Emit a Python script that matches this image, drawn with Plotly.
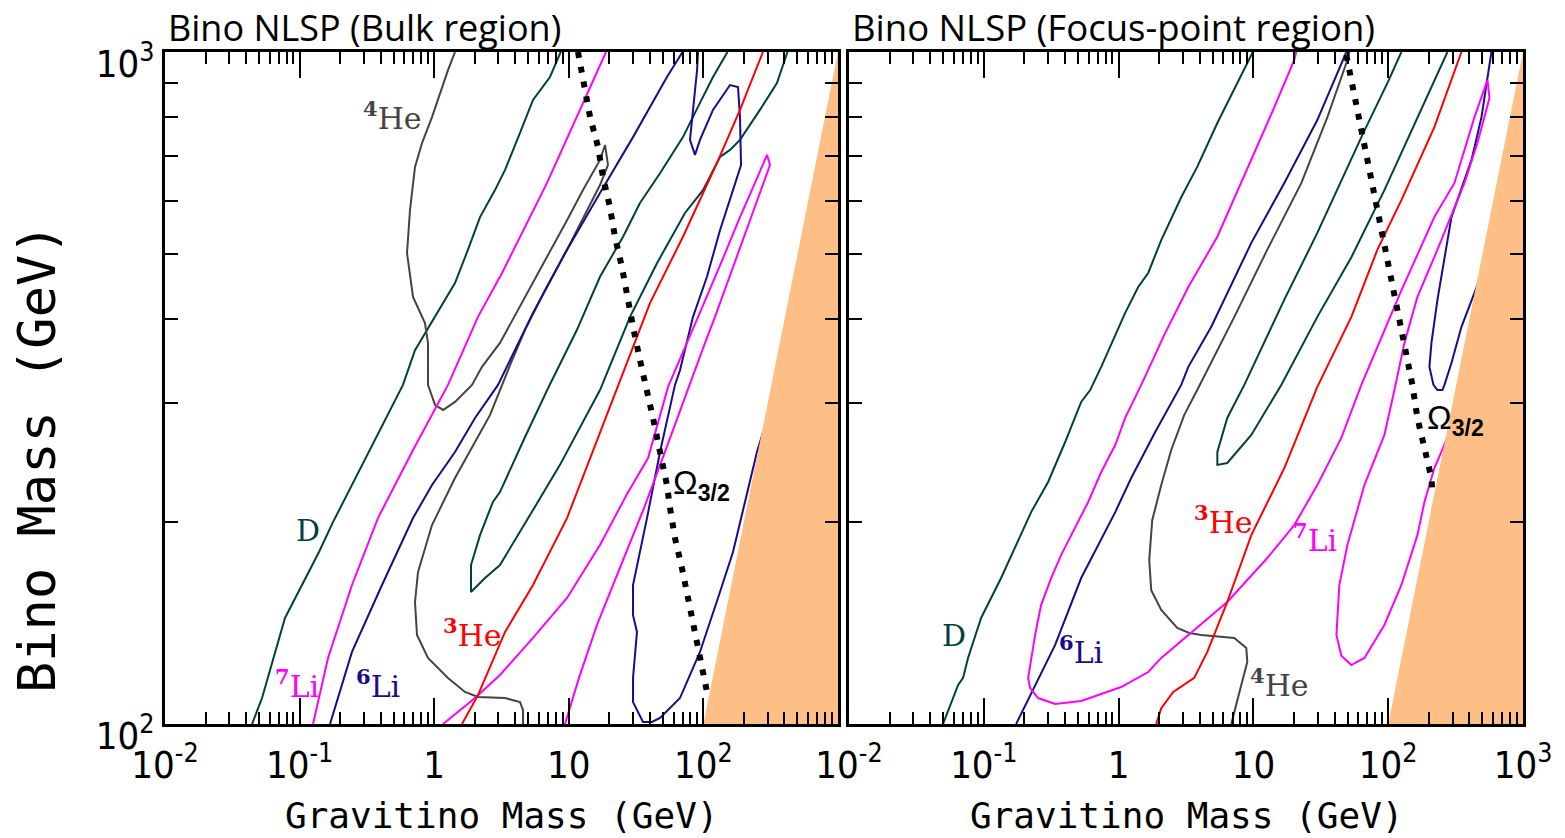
import numpy as np
import plotly.graph_objects as go

# ---------------- data (Gravitino mass [GeV], Bino mass [GeV]) ----------------
# Left panel: Bulk region
bulk_D1_x = [0.0443, 0.0526, 0.0779, 0.1393, 0.177, 0.245, 0.382, 0.586, 0.720, 1.014, 1.427, 1.783, 2.19, 2.83, 3.36, 4.34, 5.42, 7.25, 8.7]
bulk_D1_y = [100, 109.3, 143.8, 180.3, 199.7, 226.8, 269.2, 319.6, 360, 403.5, 453, 508, 568, 623, 667.6, 758, 848.5, 918, 1000]

bulk_D2_x = [151, 117.8, 94.3, 70.5, 47.6, 33.8, 25.3, 17.05, 11.5, 7.01, 4.73, 3.08, 2.73, 2.19, 1.877, 1.877, 2.385, 3.08, 5.15, 8.60, 17.05, 28.5, 45.2, 73.0, 99.3, 132.8, 157.6, 187, 263, 352, 421]
bulk_D2_y = [1000, 918, 840, 747, 660, 596, 531, 463, 386, 316, 267.4, 221.4, 214, 191, 172.4, 157.2, 164.9, 172.4, 204.6, 243, 314, 403.5, 485, 576, 623, 698, 715, 740, 820, 899, 1000]

bulk_Li7a_x = [0.1258, 0.1626, 0.245, 0.382, 0.684, 1.266, 2.115, 3.19, 6.89, 11.5, 18.9]
bulk_Li7a_y = [100, 125.4, 161, 202.5, 254, 319.6, 403.5, 469, 638.5, 800, 1000]

bulk_Li7b_x = [1.163, 2.01, 3.08, 5.42, 9.70, 17.05, 27.1, 38.8, 54.6, 71.8, 96.0, 135.1, 187, 241.8, 297, 312.5, 263, 200.2, 155, 122, 102.8, 76.8, 51.8, 36.2, 24.0, 16.2, 11.9, 9.37]
bulk_Li7b_y = [100, 109.3, 118.3, 134.3, 154, 184.6, 220, 248.8, 317.4, 360, 413, 485, 568, 638.5, 703, 679, 617, 531, 463, 403.5, 369, 314, 254, 209.6, 170.6, 140.4, 117.1, 100]

bulk_Li6a_x = [0.1682, 0.245, 0.4095, 0.696, 0.963, 1.427, 2.01, 2.98, 5.42, 9.70, 17.05, 30.0, 53.6, 70.0]
bulk_Li6a_y = [100, 128, 161, 202.5, 226.8, 254, 285.4, 319.6, 409, 508, 617, 747, 918, 1000]

bulk_Li6b_x = [91.2, 89.7, 79.5, 86.6, 94.3, 117.8, 157.6, 180.8, 187, 190.3, 165.9, 132.8, 106.3, 83.7, 67.0, 61.5, 47.6, 38.1, 30.0, 30.0, 32.1, 30.0, 30.0, 35.6, 41.5, 47.6, 67.0, 94.3, 132.8, 165.9, 250, 312.5]
bulk_Li6b_y = [1000, 940, 740, 703, 740, 820, 893, 887, 800, 679, 623, 543, 463, 403.5, 336, 319.6, 254, 202.5, 161, 145.2, 137.1, 117.1, 107.8, 100.7, 100.7, 102.1, 109.3, 128, 157.2, 180.3, 254, 293.3]

bulk_He3_x = [1.609, 2.115, 3.36, 5.42, 9.70, 17.05, 23.2, 40.1, 70.5, 126.2, 187, 277]
bulk_He3_y = [100, 110.4, 137.1, 161, 202.5, 272, 317.4, 423, 531, 684, 820, 1000]

bulk_He4_x = [1.427, 1.266, 0.963, 0.812, 0.720, 0.661, 0.628, 0.696, 0.854, 0.899, 0.899, 1.014, 1.163, 1.427, 1.909, 2.265, 3.08, 5.42, 9.70, 12.75, 17.05, 18.6, 19.55, 17.05, 13.2, 9.70, 6.66, 4.73, 3.66, 3.08, 2.60, 2.01, 1.427, 0.963, 0.758, 0.720, 0.745, 0.899, 1.266, 1.693, 2.115, 3.36, 4.34, 4.57, 4.57]
bulk_He4_y = [1000, 940, 800, 732, 674.5, 582, 502, 432, 395, 369, 319.6, 298.4, 293.3, 301.5, 319.6, 340, 369, 453, 562, 623, 691, 727, 679, 634, 572, 508, 442, 386, 342, 314, 288.4, 262.8, 232.3, 197.7, 168.3, 151.9, 135.7, 125.4, 117.1, 111.6, 109.7, 109.3, 107.8, 104.9, 100]

bulk_omega_x = [11.7, 13.2, 14.4, 16.5, 17.95, 20.2, 22.0, 24.8, 27.1, 30.0, 33.8, 36.8, 42.2, 47.6, 53.6, 56.5, 61.5, 69.3, 76.8, 83.7, 94.3, 108.2]
bulk_omega_y = [1000, 887, 800, 722, 652, 588, 531, 479, 432, 390, 348, 319.6, 285.4, 254, 226.8, 209.6, 189, 170.6, 154, 139, 125.4, 109.7]

# Right panel: Focus-point region
focus_D1_x = [0.0498, 0.0645, 0.0702, 0.0764, 0.0955, 0.1344, 0.2245, 0.300, 0.4014, 0.5277, 0.6155, 0.743, 1.119, 1.398, 1.658, 2.072, 2.915, 3.83, 5.40, 7.60, 9.9]
focus_D1_y = [100, 114.3, 117.1, 125.4, 143.8, 164.9, 206.7, 229.2, 262.8, 301.5, 314, 340, 409, 447, 469, 525, 608, 674.5, 784, 899, 1000]

focus_D2_x = [125.3, 98.6, 65.4, 44.2, 29.8, 16.96, 8.56, 6.40, 5.40, 5.40, 6.40, 9.65, 16.1, 29.8, 53.3, 93.7, 164.7, 275]
focus_D2_y = [1000, 899, 758, 638.5, 538, 428, 319.6, 285.4, 254, 243, 244.6, 269.2, 319.6, 403.5, 495, 623, 800, 1000]

focus_Li7_x = [20.8, 20.1, 14.3, 9.65, 5.40, 3.29, 2.218, 1.472, 1.119, 0.944, 0.743, 0.595, 0.476, 0.375, 0.316, 0.266, 0.2403, 0.2133, 0.2207, 0.2529, 0.3383, 0.5277, 1.045, 1.658, 2.072, 3.29, 6.40, 12.68, 20.1, 29.8, 44.9, 63.2, 125.3, 220, 310, 436.5, 545, 564, 459, 368, 232, 164.7, 131.9, 111.2, 93.7, 66.6, 49.8, 43.4, 41.3, 44.9, 53.3, 66.6, 93.7, 125.3, 164.7, 185.7, 220, 248, 310]
focus_Li7_y = [1000, 973, 828, 691, 531, 447, 382, 319.6, 285.4, 260.1, 237.1, 214, 195.7, 178.5, 164.9, 150.3, 135.7, 117.1, 113.1, 109.3, 107.1, 108.2, 113.5, 119.5, 125.4, 135.7, 151.9, 176.6, 197.7, 226.8, 266.5, 319.6, 442, 568, 638.5, 800, 908.5, 854, 732, 638.5, 508, 432, 369, 314, 269.2, 226.8, 184.6, 161, 135.7, 126.4, 122.4, 125.4, 140.4, 161, 191, 214, 240.4, 254, 283.5]

focus_Li6a_x = [0.1737, 0.2403, 0.3383, 0.5277, 0.944, 1.240, 1.869, 2.915, 3.29, 4.87, 9.65, 16.96, 29.8, 48.9]
focus_Li6a_y = [100, 114.3, 131.1, 164.9, 206.7, 232.3, 272, 319.6, 340, 390, 520, 638.5, 792, 1000]

focus_Li6b_x = [583, 492, 415, 294.6, 232, 209.3, 202.2, 216.6, 232, 252.6, 261.4, 294.6, 349.5, 415, 475]
focus_Li6b_y = [1000, 800, 691, 568, 428, 369, 340, 319.6, 314, 314, 319.6, 344.5, 390, 428, 458]

focus_He4_x = [51.5, 49.8, 35.4, 22.7, 12.68, 7.22, 3.83, 3.07, 2.457, 2.072, 1.776, 1.688, 1.746, 2.072, 2.723, 3.343, 4.105, 7.22, 8.86, 9.01, 8.13, 6.85]
focus_He4_y = [1000, 973, 800, 638.5, 508, 403.5, 314, 288.4, 255.7, 226.8, 201, 175.4, 158.2, 147.8, 139, 136.6, 135.7, 134.3, 129.8, 123.7, 114.3, 100]

focus_He3_x = [1.902, 2.072, 2.543, 3.29, 3.64, 4.55, 6.40, 9.65, 16.96, 29.8, 53.3, 83.2, 125.3, 220, 337.8, 349.5]
focus_He3_y = [100, 105.6, 111.6, 115.5, 117.1, 128, 151.9, 191, 240.4, 317.4, 403.5, 508, 602, 773, 983, 1000]

focus_omega_x = [48.9, 54.2, 59.1, 66.6, 73.8, 81.7, 90.5, 98.6, 111.2, 123.2, 136.5, 151.2, 164.7, 185.7, 209.3, 212.9]
focus_omega_y = [990, 899, 811, 727, 656, 592, 534, 482, 435, 392, 354, 319.6, 285.4, 257.5, 232.3, 221.4]

# excluded region (gravitino heavier than bino)
orange_x = [100, 1000, 1000]
orange_y = [100, 1000, 100]

# tick labels
x_tickvals = [0.01, 0.1, 1, 10, 100, 1000]
x_ticktext_left = ["10<sup>-2</sup>", "10<sup>-1</sup>", "1", "10", "10<sup>2</sup>", ""]
x_ticktext_right = ["10<sup>-2</sup>", "10<sup>-1</sup>", "1", "10", "10<sup>2</sup>", "10<sup>3</sup>"]
y_tickvals = [100, 1000]
y_ticktext = ["10<sup>2</sup>", "10<sup>3</sup>"]
x_minor = [m * 10.0 ** e for e in range(-2, 3) for m in range(2, 10)]
y_minor = [200, 300, 400, 500, 600, 700, 800, 900]

# curve labels: (text, x, y, colour)
bulk_labels = [
    ("<sup><b>4</b></sup>He", 0.486, 803, "#444444"),
    ("D", 0.1155, 194.4, "#00403f"),
    ("<sup><b>7</b></sup>Li", 0.0956, 114.7, "#ff00ff"),
    ("<sup><b>6</b></sup>Li", 0.382, 114.7, "#1c0a8c"),
    ("<sup><b>3</b></sup>He", 1.909, 136.6, "#ff0000"),
]
focus_labels = [
    ("D", 0.0602, 135.2, "#00403f"),
    ("<sup><b>6</b></sup>Li", 0.528, 128.9, "#1c0a8c"),
    ("<sup><b>3</b></sup>He", 5.98, 201, "#ff0000"),
    ("<sup><b>7</b></sup>Li", 28.8, 189, "#ff00ff"),
    ("<sup><b>4</b></sup>He", 15.6, 115, "#444444"),
]
omega_labels = [(96, 226.8, "x", "y"), (315, 283.5, "x2", "y2")]

C_D, C_LI7, C_LI6, C_HE3, C_HE4 = "#00403f", "#ff00ff", "#1c0a8c", "#ff0000", "#444444"
ORANGE = "#fdbf86"

fig = go.Figure()


def line(x, y, color, xa, ya, width=2.0):
    fig.add_trace(go.Scatter(x=x, y=y, mode="lines", line=dict(color=color, width=width),
                             xaxis=xa, yaxis=ya, showlegend=False, hoverinfo="skip"))


# left panel curves
line(bulk_D1_x, bulk_D1_y, C_D, "x", "y")
line(bulk_D2_x, bulk_D2_y, C_D, "x", "y")
line(bulk_He4_x, bulk_He4_y, C_HE4, "x", "y")
line(bulk_Li6a_x, bulk_Li6a_y, C_LI6, "x", "y")
line(bulk_Li6b_x, bulk_Li6b_y, C_LI6, "x", "y")
line(bulk_Li7a_x, bulk_Li7a_y, C_LI7, "x", "y")
line(bulk_Li7b_x, bulk_Li7b_y, C_LI7, "x", "y")
line(bulk_He3_x, bulk_He3_y, C_HE3, "x", "y")
# right panel curves
line(focus_D1_x, focus_D1_y, C_D, "x2", "y2")
line(focus_D2_x, focus_D2_y, C_D, "x2", "y2")
line(focus_He4_x, focus_He4_y, C_HE4, "x2", "y2")
line(focus_Li6a_x, focus_Li6a_y, C_LI6, "x2", "y2")
line(focus_Li6b_x, focus_Li6b_y, C_LI6, "x2", "y2")
line(focus_Li7_x, focus_Li7_y, C_LI7, "x2", "y2")
line(focus_He3_x, focus_He3_y, C_HE3, "x2", "y2")

# excluded regions
for xa, ya in (("x", "y"), ("x2", "y2")):
    fig.add_trace(go.Scatter(x=orange_x, y=orange_y, mode="lines", fill="toself",
                             fillcolor=ORANGE, line=dict(width=0, color=ORANGE),
                             xaxis=xa, yaxis=ya, showlegend=False, hoverinfo="skip"))

# Omega_3/2 dotted lines
for ox, oy, xa, ya in ((bulk_omega_x, bulk_omega_y, "x", "y"), (focus_omega_x, focus_omega_y, "x2", "y2")):
    fig.add_trace(go.Scatter(x=ox, y=oy, mode="lines",
                             line=dict(color="black", width=6, dash="6px,9px"),
                             xaxis=xa, yaxis=ya, showlegend=False, hoverinfo="skip"))

annotations = []
for labels, xa, ya in ((bulk_labels, "x", "y"), (focus_labels, "x2", "y2")):
    for txt, lx, ly, col in labels:
        annotations.append(dict(text=txt, x=np.log10(lx), y=np.log10(ly), xref=xa, yref=ya,
                                showarrow=False, font=dict(family="DejaVu Serif", size=30, color=col),
                                xanchor="center", yanchor="middle"))
for lx, ly, xa, ya in omega_labels:
    annotations.append(dict(text="Ω<sub><b>3/2</b></sub>", x=np.log10(lx), y=np.log10(ly), xref=xa, yref=ya,
                            showarrow=False, font=dict(family="Liberation Sans", size=33, color="black"),
                            xanchor="center", yanchor="middle"))

# panel titles
annotations.append(dict(text="Bino NLSP (Bulk region)", x=166 / 1565, y=1 - 27 / 838, xref="paper", yref="paper",
                        xanchor="left", yanchor="middle", showarrow=False,
                        font=dict(family="Open Sans", size=36, color="black")))
annotations.append(dict(text="Bino NLSP (Focus-point region)", x=850 / 1565, y=1 - 27 / 838, xref="paper", yref="paper",
                        xanchor="left", yanchor="middle", showarrow=False,
                        font=dict(family="Open Sans", size=36.5, color="black")))
# axis titles
for cx in (502, 1186):
    annotations.append(dict(text="Gravitino Mass (GeV)", x=cx / 1565, y=1 - 815 / 838, xref="paper", yref="paper",
                            xanchor="center", yanchor="middle", showarrow=False,
                            font=dict(family="DejaVu Sans Mono", size=36, color="black")))
annotations.append(dict(text="Bino Mass (GeV)", x=37 / 1565, y=1 - 458 / 838, xref="paper", yref="paper",
                        xanchor="center", yanchor="middle", showarrow=False, textangle=-90,
                        font=dict(family="DejaVu Sans Mono", size=52, color="black")))

tickfont = dict(family="Liberation Sans Narrow, DejaVu Sans Condensed, Liberation Sans", size=38, color="black")
common_x = dict(type="log", range=[-2, 3], showline=True, linewidth=3, linecolor="black", mirror="allticks",
                ticks="inside", ticklen=26, tickwidth=2, tickcolor="black", tickvals=x_tickvals,
                showgrid=False, zeroline=False, tickfont=tickfont, automargin=False, ticklabelstandoff=5,
                minor=dict(tickvals=x_minor, ticks="inside", ticklen=12, tickwidth=2, tickcolor="black", showgrid=False))
common_y = dict(type="log", range=[2, 3], showline=True, linewidth=3, linecolor="black", mirror="allticks",
                ticks="inside", ticklen=13, tickwidth=2, tickcolor="black", tickvals=y_tickvals, ticktext=y_ticktext,
                showgrid=False, zeroline=False, tickfont=tickfont, automargin=False, ticklabelshift=12,
                minor=dict(tickvals=y_minor, ticks="inside", ticklen=13, tickwidth=2, tickcolor="black", showgrid=False))

fig.update_layout(
    width=1565, height=838, margin=dict(l=0, r=0, t=0, b=0, autoexpand=False),
    paper_bgcolor="white", plot_bgcolor="white", showlegend=False,
    xaxis=dict(common_x, domain=[165 / 1565, 838 / 1565], anchor="y", ticktext=x_ticktext_left),
    yaxis=dict(common_y, domain=[1 - 724 / 838, 1 - 52 / 838], anchor="x"),
    xaxis2=dict(common_x, domain=[849 / 1565, 1523 / 1565], anchor="y2", ticktext=x_ticktext_right),
    yaxis2=dict(common_y, domain=[1 - 724 / 838, 1 - 52 / 838], anchor="x2", showticklabels=False),
    annotations=annotations,
)

fig.write_html("out.html")
